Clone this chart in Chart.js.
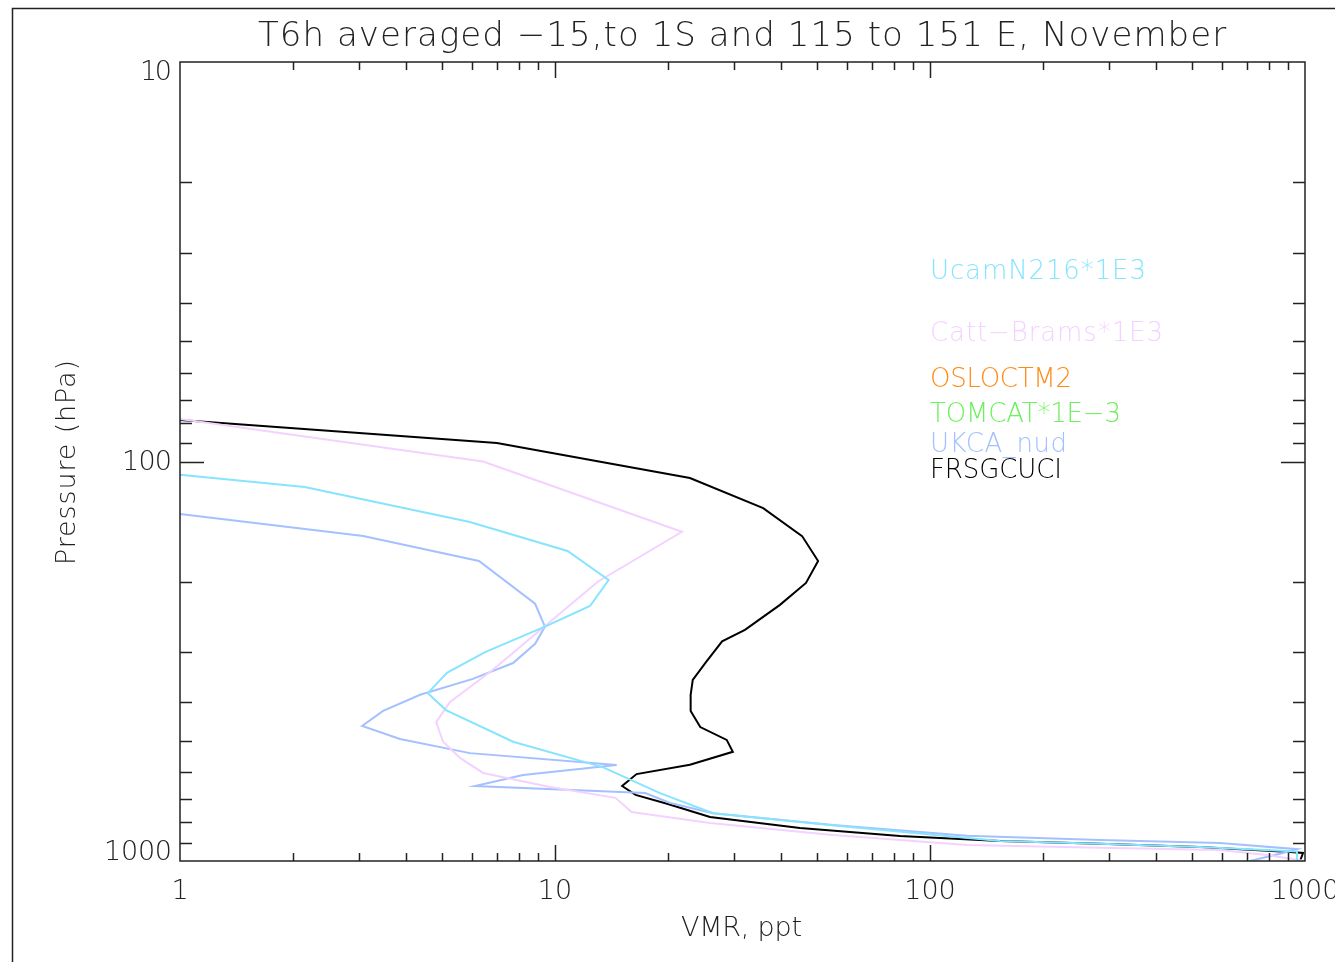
<!DOCTYPE html>
<html>
<head>
<meta charset="utf-8">
<script src="https://cdn.jsdelivr.net/npm/chart.js@4.4.0/dist/chart.umd.min.js"></script>
<style>
  html, body { margin: 0; padding: 0; background: #fff; }
  canvas { display: block; }
</style>
</head>
<body>
<canvas id="profileChart" width="1335" height="962"></canvas>
<script>
// Profiles: VMR (ppt) against pressure (hPa)
const ucamVmr = [1, 2.15, 5.93, 10.8, 13.9, 12.4, 9.4, 6.51, 5.15, 4.58, 5.12, 7.73, 13.4, 19.05, 26.4, 61.2, 153.7, 284, 525, 952, 952];
const ucamP   = [108, 115.8, 141.7, 167.5, 198, 230, 259, 300, 338, 380, 419, 503, 582, 676, 759, 822, 891, 906, 922, 947, 1000];

const cattVmr = [1, 6.43, 21.8, 13.0, 6.83, 5.25, 4.82, 5.03, 5.58, 6.43, 9.7, 14.5, 16.0, 25.9, 55.1, 125.6, 284, 593, 792, 1000];
const cattP   = [78.3, 100, 150, 200, 332, 400, 449, 503, 552, 602, 653, 695, 754, 803, 861, 912, 927, 939, 966, 1000];

const ukcaVmr = [1, 3.08, 6.27, 8.85, 9.4, 8.85, 7.73, 6.04, 4.37, 3.48, 3.06, 3.86, 5.93, 14.6, 8.22, 6.12, 17.4, 20.3, 26.4, 55.1, 125.6, 284, 593, 952, 874, 713];
const ukcaP   = [135.3, 153.7, 177.4, 227, 259, 286, 319.5, 350, 383.7, 421, 459, 495, 537, 575, 609, 649, 676, 716, 759, 813, 865, 886, 901, 934, 955, 1000];

const frsgVmr = [1, 7.0, 22.9, 35.9, 45.6, 50.3, 46.7, 39.8, 32.1, 27.9, 25.3, 23.3, 23.0, 23.0, 24.4, 28.7, 29.8, 22.9, 16.5, 15.1, 16.4, 20.0, 25.9, 45.0, 83.2, 153.7, 284, 525, 912, 988, 970];
const frsgP   = [78.7, 89.9, 110, 130.8, 153.7, 177.4, 201.4, 228.5, 264, 282, 317.5, 352, 383.7, 421, 462, 497.6, 533, 574, 606, 649, 683, 720, 776, 827, 866, 891, 906, 922, 950, 955, 1000];

const legendLabels = ['UcamN216*1E3', 'Catt\u2212Brams*1E3', 'OSLOCTM2', 'TOMCAT*1E\u22123', 'UKCA_nud', 'FRSGCUCI'];
const legendColors = ['#86e4ff', '#f4d2ff', '#ff8a16', '#6cf05c', '#a4c0ff', '#000000'];

const xTickLabels = [1, 10, 100, 1000];
const yTickLabels = [10, 100, 1000];

const titleText = 'T6h averaged \u221215,to 1S and 115 to 151 E, November';
const xTitle = 'VMR, ppt';
const yTitle = 'Pressure (hPa)';

const FONT = "'DejaVu Sans', sans-serif";

// Строим точки из двух массивов
function toPoints(vmr, p) {
  return vmr.map((v, i) => ({ x: v, y: p[i] }));
}

function isDecade(v) {
  const l = Math.log10(v);
  return Math.abs(l - Math.round(l)) < 1e-6;
}

// Текст, растянутый до нужной ширины (как у векторного шрифта IDL)
function fitText(ctx, text, x, y, size, color, width) {
  ctx.save();
  ctx.font = `200 ${size}px ${FONT}`;
  ctx.fillStyle = color;
  ctx.textAlign = 'left';
  ctx.textBaseline = 'middle';
  ctx.letterSpacing = '0px';
  const w = ctx.measureText(text).width;
  if (width && text.length > 1) {
    ctx.letterSpacing = ((width - w) / (text.length - 1)).toFixed(2) + 'px';
  }
  ctx.fillText(text, x, y);
  ctx.restore();
}

const idlFrame = {
  id: 'idlFrame',
  afterDraw(chart) {
    const ctx = chart.ctx;
    const a = chart.chartArea;
    const xs = chart.scales.x;
    const ys = chart.scales.y;

    ctx.save();
    ctx.strokeStyle = '#222';
    ctx.lineWidth = 1.5;

    // рамка графика
    ctx.strokeRect(a.left, a.top, a.right - a.left, a.bottom - a.top);

    // внутренние деления на всех четырёх сторонах
    ctx.beginPath();
    [1, 10, 100].forEach(dec => {
      for (let m = 1; m <= 9; m++) {
        const v = dec * m;
        if (v <= 1) continue;
        const len = m === 1 ? 16 : 8;
        const px = Math.round(xs.getPixelForValue(v)) + 0.5;
        ctx.moveTo(px, a.bottom); ctx.lineTo(px, a.bottom - len);
        ctx.moveTo(px, a.top); ctx.lineTo(px, a.top + len);
      }
    });
    [10, 100].forEach(dec => {
      for (let m = 1; m <= 9; m++) {
        const v = dec * m;
        if (v <= 10) continue;
        const len = m === 1 ? 24 : 12;
        const py = Math.round(ys.getPixelForValue(v)) + 0.5;
        ctx.moveTo(a.left, py); ctx.lineTo(a.left + len, py);
        ctx.moveTo(a.right, py); ctx.lineTo(a.right - len, py);
      }
    });
    ctx.stroke();

    // внешняя рамка страницы
    ctx.beginPath();
    ctx.moveTo(12.5, chart.height);
    ctx.lineTo(12.5, 8.5);
    ctx.lineTo(chart.width, 8.5);
    ctx.stroke();
    ctx.restore();

    // подписи оси давления
    const yWidths = { 10: 32, 100: 50, 1000: 68 };
    yTickLabels.forEach(v => {
      let py = ys.getPixelForValue(v);
      py = Math.min(Math.max(py, a.top + 10), a.bottom - 9);
      const w = yWidths[v];
      fitText(ctx, String(v), a.left - 8 - w, py + 1, 27, '#222', w);
    });

    // заголовок и подписи осей
    fitText(ctx, titleText, 258, 37, 34, '#222', 968);
    fitText(ctx, xTitle, 681, 929, 27, '#222', 121);
    ctx.save();
    ctx.translate(68, 565);
    ctx.rotate(-Math.PI / 2);
    fitText(ctx, yTitle, 0, 0, 27, '#222', 205);
    ctx.restore();

    // легенда
    const legendY = [272, 334, 380, 415, 445, 471];
    const legendW = [216, 233, 142, 191, 137, 132];
    legendLabels.forEach((t, i) => {
      fitText(ctx, t, 930, legendY[i], 26, legendColors[i], legendW[i]);
    });
  }
};

const seriesList = [
  { label: legendLabels[0], data: toPoints(ucamVmr, ucamP), color: legendColors[0], width: 2 },
  { label: legendLabels[1], data: toPoints(cattVmr, cattP), color: legendColors[1], width: 2 },
  { label: legendLabels[4], data: toPoints(ukcaVmr, ukcaP), color: legendColors[4], width: 2 },
  { label: legendLabels[5], data: toPoints(frsgVmr, frsgP), color: legendColors[5], width: 2 }
];

const chart = new Chart(document.getElementById('profileChart'), {
  type: 'scatter',
  data: {
    datasets: seriesList.map(s => ({
      label: s.label,
      data: s.data,
      showLine: true,
      borderColor: s.color,
      backgroundColor: s.color,
      borderWidth: s.width,
      pointRadius: 0,
      tension: 0
    }))
  },
  options: {
    responsive: false,
    animation: false,
    layout: { padding: { left: 0, top: 62, right: 30, bottom: 0 } },
    plugins: {
      legend: { display: false },
      title: { display: false },
      tooltip: { enabled: false }
    },
    scales: {
      x: {
        type: 'logarithmic',
        min: 1,
        max: 1000,
        grid: { display: false, drawTicks: false },
        border: { display: false },
        ticks: {
          autoSkip: false,
          maxRotation: 0,
          padding: 15,
          color: '#222',
          font: { family: FONT, size: 27, weight: 200 },
          callback: v => (isDecade(v) && xTickLabels.includes(Math.round(v))) ? String(Math.round(v)) : ''
        },
        afterFit: s => { s.height = 101; s.paddingLeft = 0; s.paddingRight = 0; }
      },
      y: {
        type: 'logarithmic',
        min: 10,
        max: 1000,
        reverse: true,
        grid: { display: false, drawTicks: false },
        border: { display: false },
        ticks: { display: false },
        afterFit: s => { s.width = 180; s.paddingTop = 0; s.paddingBottom = 0; }
      }
    }
  },
  plugins: [idlFrame]
});
</script>
</body>
</html>
